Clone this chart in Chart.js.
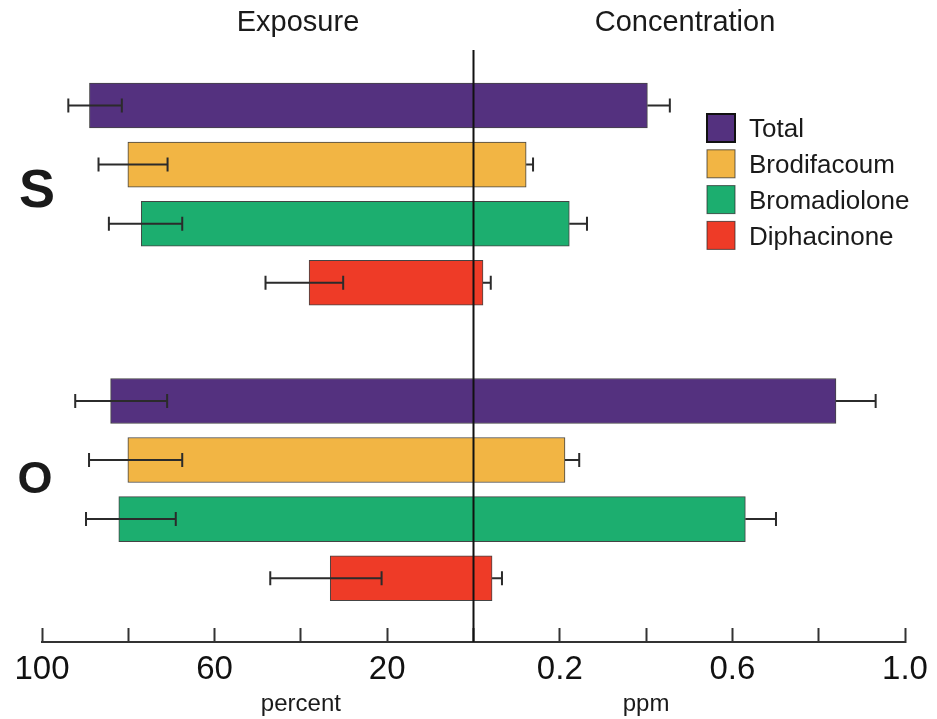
<!DOCTYPE html>
<html>
<head>
<meta charset="utf-8">
<title>Exposure and concentration</title>
<script src="https://cdn.jsdelivr.net/npm/chart.js@4.4.1/dist/chart.umd.min.js"></script>
<style>
  html, body { margin: 0; padding: 0; background: #fff; }
  #wrap { position: relative; width: 937px; height: 719px; }
</style>
</head>
<body>
<div id="wrap"><canvas id="myChart"></canvas></div>
<script>
// ==========================================================================
// Data
// ==========================================================================
const groups = ['S', 'O'];
const series = ['Total', 'Brodifacoum', 'Bromadiolone', 'Diphacinone'];
const colors = ['#54317f', '#f2b544', '#1cae6f', '#ee3b27'];

// exposure in percent, one [S, O] pair per series
const exposure     = [[89.0, 84.1], [80.1, 80.1], [77.0, 82.2], [38.1, 33.2]];
const exposureLow  = [[81.5, 71.0], [70.9, 67.5], [67.5, 69.0], [30.2, 21.3]];
const exposureHigh = [[93.9, 92.3], [86.9, 89.1], [84.5, 89.8], [48.2, 47.1]];

// concentration in ppm, one [S, O] pair per series
const concentration    = [[0.403, 0.840], [0.122, 0.212], [0.222, 0.630], [0.022, 0.043]];
const concentrationErr = [[0.052, 0.092], [0.016, 0.033], [0.041, 0.071], [0.018, 0.023]];

// shared axis: -1..0 is exposure (100..0 %), 0..1 is ppm
const tickValues = [-1, -0.6, -0.2, 0.2, 0.6, 1.0];
const tickLabels = ['100', '60', '20', '0.2', '0.6', '1.0'];

const FONT = '"Liberation Sans", Arial, Helvetica, sans-serif';

function rowOf(s, g) {
  // one empty row between the groups
  return g * (series.length + 1) + s;
}

const datasets = series.map(function (name, s) {
  const pts = [];
  groups.forEach(function (g, gi) {
    pts.push({ x: -exposure[s][gi] / 100, y: rowOf(s, gi) });
    pts.push({ x: concentration[s][gi], y: rowOf(s, gi) });
  });
  return {
    label: name,
    data: pts,
    backgroundColor: colors[s],
    borderColor: 'rgba(35,35,35,0.85)',
    borderWidth: 1
  };
});

// ==========================================================================
// Plugins
// ==========================================================================
const errorBars = {
  id: 'errorBars',
  afterDatasetsDraw: function (chart) {
    const ctx = chart.ctx, xs = chart.scales.x, ys = chart.scales.y;
    const cap = 7;
    ctx.save();
    ctx.strokeStyle = '#2b2b2b';
    ctx.lineWidth = 2;
    series.forEach(function (name, s) {
      groups.forEach(function (g, gi) {
        const py = ys.getPixelForValue(rowOf(s, gi));
        // exposure: whole whisker, caps at both ends
        const a = xs.getPixelForValue(-exposureHigh[s][gi] / 100);
        const b = xs.getPixelForValue(-exposureLow[s][gi] / 100);
        ctx.beginPath();
        ctx.moveTo(a, py); ctx.lineTo(b, py);
        ctx.moveTo(a, py - cap); ctx.lineTo(a, py + cap);
        ctx.moveTo(b, py - cap); ctx.lineTo(b, py + cap);
        ctx.stroke();
        // concentration: outer half only
        const c0 = xs.getPixelForValue(concentration[s][gi]);
        const c1 = xs.getPixelForValue(concentration[s][gi] + concentrationErr[s][gi]);
        ctx.beginPath();
        ctx.moveTo(c0, py); ctx.lineTo(c1, py);
        ctx.moveTo(c1, py - cap); ctx.lineTo(c1, py + cap);
        ctx.stroke();
      });
    });
    ctx.restore();
  }
};

const centerLine = {
  id: 'centerLine',
  afterDatasetsDraw: function (chart) {
    const ctx = chart.ctx, area = chart.chartArea;
    const px = chart.scales.x.getPixelForValue(0);
    ctx.save();
    ctx.strokeStyle = '#111';
    ctx.lineWidth = 2;
    ctx.beginPath();
    ctx.moveTo(px, area.top);
    ctx.lineTo(px, area.bottom);
    ctx.stroke();
    ctx.restore();
  }
};

const annotations = {
  id: 'annotations',
  afterDraw: function (chart) {
    const ctx = chart.ctx, xs = chart.scales.x, ys = chart.scales.y;
    ctx.save();
    ctx.fillStyle = '#1a1a1a';
    ctx.textAlign = 'center';
    ctx.textBaseline = 'middle';

    // headers
    ctx.font = '29px ' + FONT;
    ctx.fillText('Exposure', 298, 23);
    ctx.fillText('Concentration', 685, 23);

    // unit labels
    ctx.font = '24px ' + FONT;
    ctx.fillText('percent', xs.getPixelForValue(-0.4), 704);
    ctx.fillText('ppm', xs.getPixelForValue(0.4), 704);

    // group letters
    ctx.font = 'bold 54px ' + FONT;
    ctx.fillText(groups[0], 37, ys.getPixelForValue(rowOf(1.47, 0)));
    ctx.font = 'bold 45px ' + FONT;
    ctx.fillText(groups[1], 35, ys.getPixelForValue(rowOf(1.35, 1)));

    // legend
    ctx.textAlign = 'left';
    ctx.font = '26px ' + FONT;
    series.forEach(function (name, s) {
      const top = 114 + s * 35.8;
      ctx.fillStyle = colors[s];
      ctx.fillRect(707, top, 28, 28);
      ctx.strokeStyle = s === 0 ? '#111' : 'rgba(35,35,35,0.7)';
      ctx.lineWidth = s === 0 ? 2 : 1;
      ctx.strokeRect(707, top, 28, 28);
      ctx.fillStyle = '#1a1a1a';
      ctx.fillText(name, 749, top + 16);
    });
    ctx.restore();
  }
};

// ==========================================================================
// Chart
// ==========================================================================
const config = {
  type: 'bar',
  data: { datasets: datasets },
  options: {
    indexAxis: 'y',
    responsive: true,
    maintainAspectRatio: false,
    animation: false,
    grouped: false,
    barThickness: 45,
    layout: { padding: { top: 50, left: 42, right: 32, bottom: 7 } },
    plugins: {
      legend: { display: false },
      tooltip: { enabled: false }
    },
    scales: {
      x: {
        type: 'linear',
        min: -1,
        max: 1,
        ticks: {
          stepSize: 0.2,
          autoSkip: false,
          maxRotation: 0,
          padding: 0,
          color: '#111',
          font: { family: FONT, size: 33, lineHeight: 2.545 },
          callback: function (v) {
            for (var i = 0; i < tickValues.length; i++) {
              if (Math.abs(v - tickValues[i]) < 1e-6) return tickLabels[i];
            }
            return '';
          }
        },
        grid: {
          drawOnChartArea: false,
          drawTicks: true,
          tickLength: -14,
          tickWidth: 2,
          tickColor: '#333'
        },
        border: { display: true, color: '#333', width: 2 }
      },
      y: {
        type: 'linear',
        reverse: true,
        offset: false,
        grace: 0,
        bounds: 'data',
        min: -0.94,
        max: 9.08,
        display: false
      }
    }
  },
  plugins: [errorBars, centerLine, annotations]
};

const myChart = new Chart(document.getElementById('myChart'), config);
</script>
</body>
</html>
